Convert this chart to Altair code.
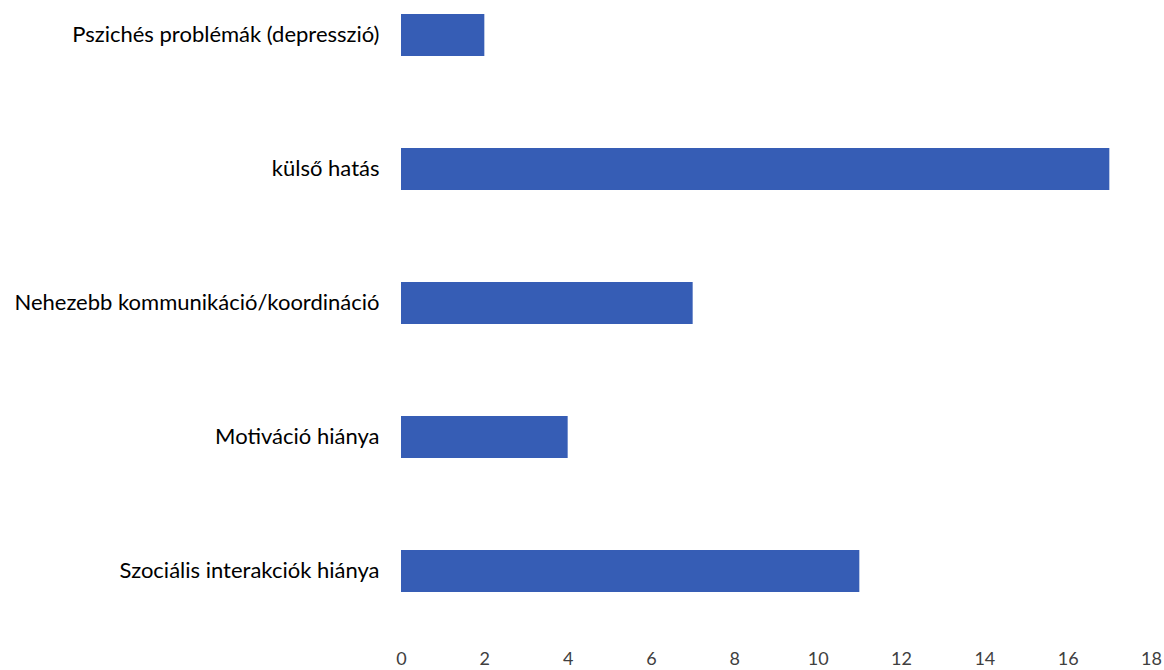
import altair as alt
import pandas as pd

categories = [
    "Pszichés problémák (depresszió)",
    "külső hatás",
    "Nehezebb kommunikáció/koordináció",
    "Motiváció hiánya",
    "Szociális interakciók hiánya",
]
values = [2, 17, 7, 4, 11]
x_ticks = list(range(0, 19, 2))

df = pd.DataFrame({"cat": categories, "val": values})

chart = (
    alt.Chart(df)
    .mark_bar(color="#365DB5")
    .encode(
        x=alt.X(
            "val:Q",
            scale=alt.Scale(domain=[0, 18], nice=False),
            axis=alt.Axis(
                values=x_ticks,
                title=None,
                grid=False,
                domain=False,
                ticks=False,
                labelPadding=44,
                labelFontSize=18,
                labelColor="#404040",
                labelFont="Lato",
                labelFlush=False,
            ),
        ),
        y=alt.Y(
            "cat:N",
            sort=categories,
            scale=alt.Scale(paddingInner=0.6866, paddingOuter=0.1045),
            axis=alt.Axis(
                title=None,
                grid=False,
                domain=False,
                ticks=False,
                labelPadding=22,
                labelFontSize=22,
                labelColor="#000000",
                labelFont="Lato",
                labelLimit=420,
            ),
        ),
    )
    .properties(
        width=750,
        height=606,
        autosize=alt.AutoSizeParams(type="none"),
        padding={"left": 401, "top": 0, "right": 13, "bottom": 64},
    )
    .configure(background="white")
    .configure_view(strokeWidth=0)
)

chart.save("out.html", embed_options={"renderer": "svg", "actions": False})
